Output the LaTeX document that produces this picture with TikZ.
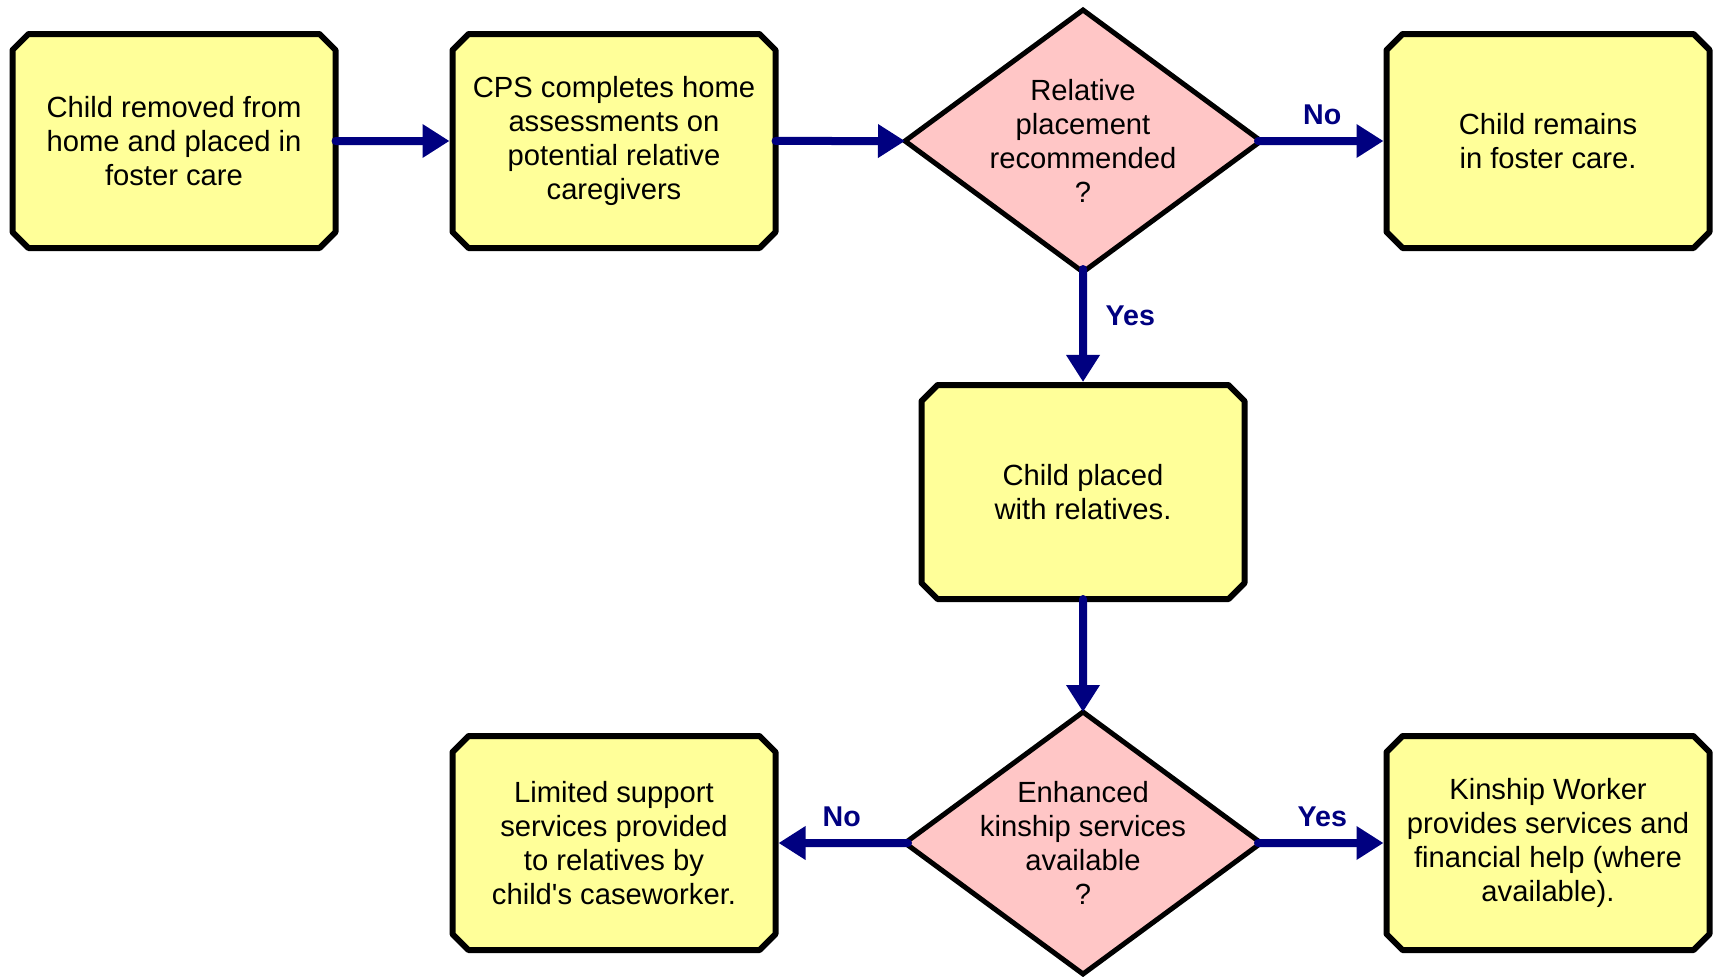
\documentclass[tikz,border=0pt]{standalone}
\usepackage{fontspec}
\setmainfont{Liberation Sans}
\usetikzlibrary{shapes.geometric, shapes.misc, arrows.meta}
\definecolor{boxyellow}{RGB}{255,255,153}
\definecolor{diapink}{RGB}{255,198,198}
\definecolor{arrownavy}{RGB}{0,0,128}
\tikzset{
  stepbox/.style={chamfered rectangle, chamfered rectangle xsep=4pt, chamfered rectangle ysep=4pt,
    draw=black, line width=3pt, line join=round, fill=boxyellow, minimum width=161.5pt,
    minimum height=107pt, inner sep=0pt, align=center, font=\fontsize{14.6}{17}\selectfont},
  choice/.style={diamond, draw=black, line width=2.5pt, fill=diapink, minimum width=178pt,
    minimum height=131pt, inner sep=0pt, outer sep=0pt},
  choicetext/.style={align=center, font=\fontsize{14.6}{17}\selectfont},
  flow/.style={arrownavy, line width=4pt, line cap=round, shorten <=-1.5pt,
    -{Triangle[length=13.5pt,width=16pt]}},
  answer/.style={text=arrownavy, font=\fontsize{14.3}{16}\selectfont\bfseries}
}
\begin{document}
\begin{tikzpicture}[x=0.5pt, y=-0.5pt]
  \useasboundingbox (0,0) rectangle (1719,976);
  \node[stepbox] (removed) at (174,141) {Child removed from\\home and placed in\\foster care};
  \node[stepbox] (assess) at (614,141) {CPS completes home\\assessments on\\potential relative\\caregivers};
  \node[choice] (recommend) at (1083,141) {};
  \node[choicetext] (recommendtext) at (recommend) {Relative\\placement\\recommended\\?};
  \node[stepbox] (foster) at (1548,141) {Child remains\\in foster care.};
  \node[stepbox] (placed) at (1083,492) {Child placed\\with relatives.};
  \node[choice] (kinship) at (1083,843) {};
  \node[choicetext] (kinshiptext) at (kinship) {Enhanced\\kinship services\\available\\?};
  \node[stepbox] (limited) at (614,843) {Limited support\\services provided\\to relatives by\\child\textquotesingle s caseworker.};
  \node[stepbox] (worker) at (1548,843) {Kinship Worker\\provides services and\\financial help (where\\available).};

  \draw[flow] (removed) -- (assess);
  \draw[flow] (assess) -- (recommend);
  \draw[flow] (recommend) -- node[answer, above=3pt] (recno) {No} (foster);
  \draw[flow] (recommend) -- node[answer, right=6pt, pos=0.4] (recyes) {Yes} (placed);
  \draw[flow] (placed) -- (kinship);
  \draw[flow] (kinship) -- node[answer, above=3pt] (kinno) {No} (limited);
  \draw[flow] (kinship) -- node[answer, above=3pt] (kinyes) {Yes} (worker);
\end{tikzpicture}
\end{document}
